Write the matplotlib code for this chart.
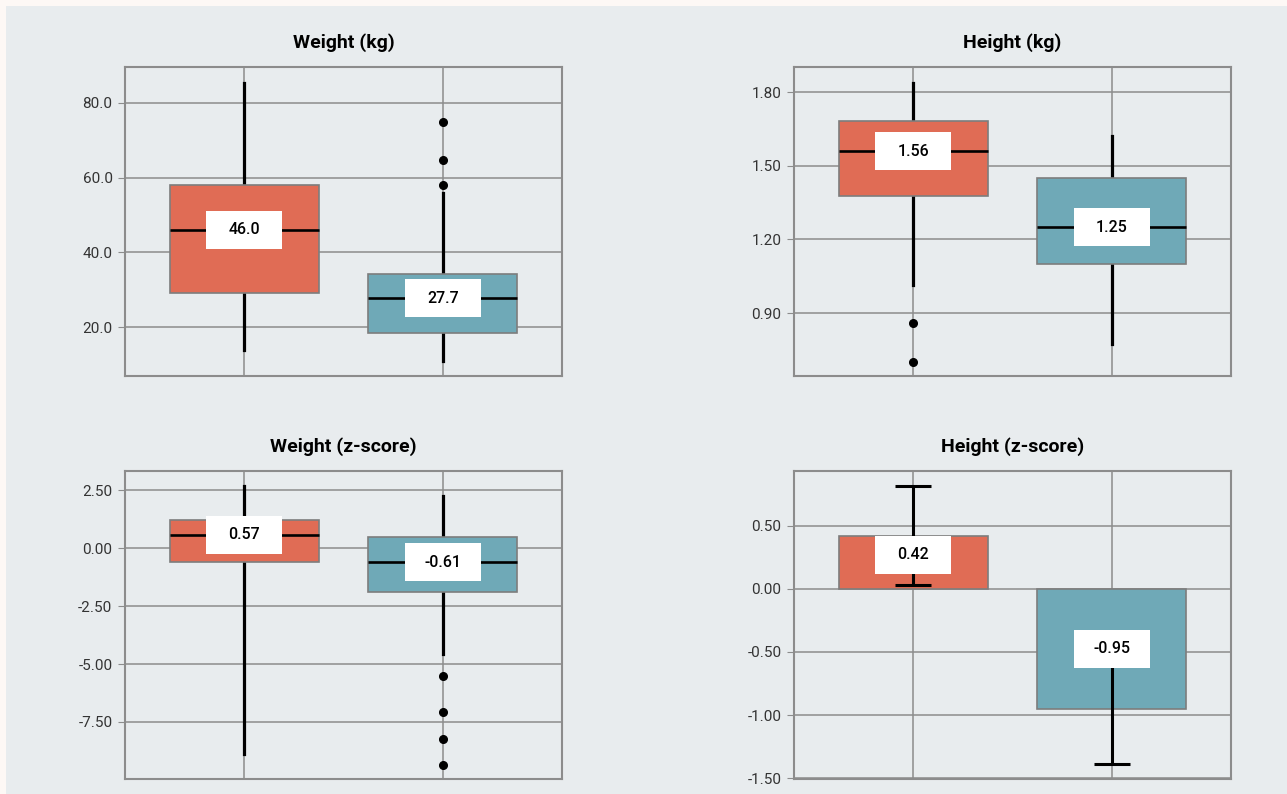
import matplotlib
matplotlib.use("Agg")
from matplotlib import pyplot as plt
from matplotlib.patches import Rectangle
import numpy as np

plt.rcParams['font.family'] = ['Roboto', 'DejaVu Sans']

# Colours for the two groups
groupColors = ["#e06c55", "#6fa9b7"]
edgeGrey = "#7d7d7d"
gridGrey = "#8c8c8c"

# Weight (kg) box summaries: [group A, group B]
weightKgMed = [46.0, 27.7]
weightKgQ1 = [29.1, 18.4]
weightKgQ3 = [58.1, 34.1]
weightKgLo = [13.9, 10.9]
weightKgHi = [85.3, 56.0]
weightKgOut = [[], [57.9, 64.8, 74.9]]

# Height (kg) box summaries
heightKgMed = [1.56, 1.25]
heightKgQ1 = [1.377, 1.098]
heightKgQ3 = [1.682, 1.449]
heightKgLo = [1.014, 0.773]
heightKgHi = [1.838, 1.621]
heightKgOut = [[0.861, 0.702], []]

# Weight (z-score) box summaries
weightZMed = [0.57, -0.61]
weightZQ1 = [-0.59, -1.91]
weightZQ3 = [1.21, 0.50]
weightZLo = [-8.88, -4.56]
weightZHi = [2.67, 2.24]
weightZOut = [[], [-5.51, -7.08, -8.24, -9.37]]

# Height (z-score) means with error
heightZMean = [0.42, -0.95]
heightZErr = [0.39, 0.44]

W, H = 1287, 794
fig = plt.figure(figsize=(W / 100, H / 100), dpi=100)
fig.patch.set_facecolor("#fdf8f5")
fig.add_artist(Rectangle((6 / W, 0), 1, 1 - 6 / H, transform=fig.transFigure,
                         facecolor="#e8ecee", edgecolor="none", zorder=0))


def makeAxes(left, top, right, bottom):
    ax = fig.add_axes([left / W, (H - bottom) / H, (right - left) / W, (bottom - top) / H])
    ax.set_facecolor("#e8ecee")
    ax.set_xlim(-0.6, 1.6)
    ax.set_xticks([0, 1])
    ax.set_xticklabels([])
    ax.tick_params(axis='x', length=0)
    ax.tick_params(axis='y', length=5, color=gridGrey, labelsize=11, labelcolor="#333333", pad=4)
    ax.grid(True, color=gridGrey, linewidth=1.1)
    ax.set_axisbelow(True)
    for s in ax.spines.values():
        s.set_color(gridGrey)
        s.set_linewidth(1.5)
    return ax


def valueLabel(ax, x, y, text, axHeightPx):
    ylo, yhi = ax.get_ylim()
    w = 76 / (437 / 2.2)
    h = 38 / axHeightPx * (yhi - ylo)
    ax.add_patch(Rectangle((x - w / 2, y - h / 2), w, h, facecolor="white",
                           edgecolor="none", zorder=5))
    ax.text(x, y, text, ha="center", va="center", fontsize=11.5, fontweight="medium",
            color="black", zorder=6)


def boxPanel(ax, med, q1, q3, lo, hi, out, title):
    stats = []
    for i in range(2):
        stats.append(dict(med=med[i], q1=q1[i], q3=q3[i], whislo=lo[i], whishi=hi[i],
                          fliers=out[i]))
    bp = ax.bxp(stats, positions=[0, 1], widths=0.75, patch_artist=True, showcaps=False,
                medianprops=dict(color="black", linewidth=1.9, zorder=4),
                whiskerprops=dict(color="black", linewidth=2.3),
                flierprops=dict(marker="o", markerfacecolor="black", markeredgecolor="black",
                                markersize=5.5))
    for patch, c in zip(bp['boxes'], groupColors):
        patch.set_facecolor(c)
        patch.set_edgecolor(edgeGrey)
        patch.set_linewidth(1.2)
        patch.set_zorder(3)
    ax.set_xlim(-0.6, 1.6)
    ax.set_xticks([0, 1])
    ax.set_xticklabels([])
    ax.set_title(title, fontsize=14, fontweight="bold", pad=14)
    return bp


# Weight (kg)
ax1 = makeAxes(125, 67, 562, 376)
boxPanel(ax1, weightKgMed, weightKgQ1, weightKgQ3, weightKgLo, weightKgHi, weightKgOut,
         "Weight (kg)")
ax1.set_ylim(6.9, 89.6)
ax1.set_yticks([20, 40, 60, 80])
ax1.set_yticklabels(["20.0", "40.0", "60.0", "80.0"])
for i, m in enumerate(weightKgMed):
    valueLabel(ax1, i, m, "{:.1f}".format(m), 309)

# Height (kg)
ax2 = makeAxes(794, 67, 1231, 376)
boxPanel(ax2, heightKgMed, heightKgQ1, heightKgQ3, heightKgLo, heightKgHi, heightKgOut,
         "Height (kg)")
ax2.set_ylim(0.644, 1.902)
ax2.set_yticks([0.9, 1.2, 1.5, 1.8])
ax2.set_yticklabels(["0.90", "1.20", "1.50", "1.80"])
for i, m in enumerate(heightKgMed):
    valueLabel(ax2, i, m, "{:.2f}".format(m), 309)

# Weight (z-score)
ax3 = makeAxes(125, 471, 562, 779)
boxPanel(ax3, weightZMed, weightZQ1, weightZQ3, weightZLo, weightZHi, weightZOut,
         "Weight (z-score)")
ax3.set_ylim(-9.96, 3.33)
ax3.set_yticks([-7.5, -5, -2.5, 0, 2.5])
ax3.set_yticklabels(["-7.50", "-5.00", "-2.50", "0.00", "2.50"])
for i, m in enumerate(weightZMed):
    valueLabel(ax3, i, m, "{:.2f}".format(m), 308)

# Height (z-score) - bars with error bars
ax4 = makeAxes(794, 471, 1231, 779)
ax4.bar([0, 1], heightZMean, width=0.75, color=groupColors, edgecolor=edgeGrey,
        linewidth=1.2, zorder=3)
ax4.errorbar([0, 1], heightZMean, yerr=heightZErr, fmt="none", ecolor="black",
             elinewidth=2.2, capsize=13, capthick=2.2, zorder=4)
ax4.set_ylim(-1.505, 0.932)
ax4.set_yticks([-1.5, -1.0, -0.5, 0, 0.5])
ax4.set_yticklabels(["-1.50", "-1.00", "-0.50", "0.00", "0.50"])
ax4.set_title("Height (z-score)", fontsize=14, fontweight="bold", pad=14)
halfLab = 19 / 308 * (0.932 + 1.505)
for i, v in enumerate(heightZMean):
    # short positive bar: hang the label from its top, otherwise centre it
    y = v - halfLab if v > 0 else v / 2
    valueLabel(ax4, i, y, "{:.2f}".format(v), 308)

plt.savefig("out.png", dpi=100, facecolor=fig.get_facecolor())
